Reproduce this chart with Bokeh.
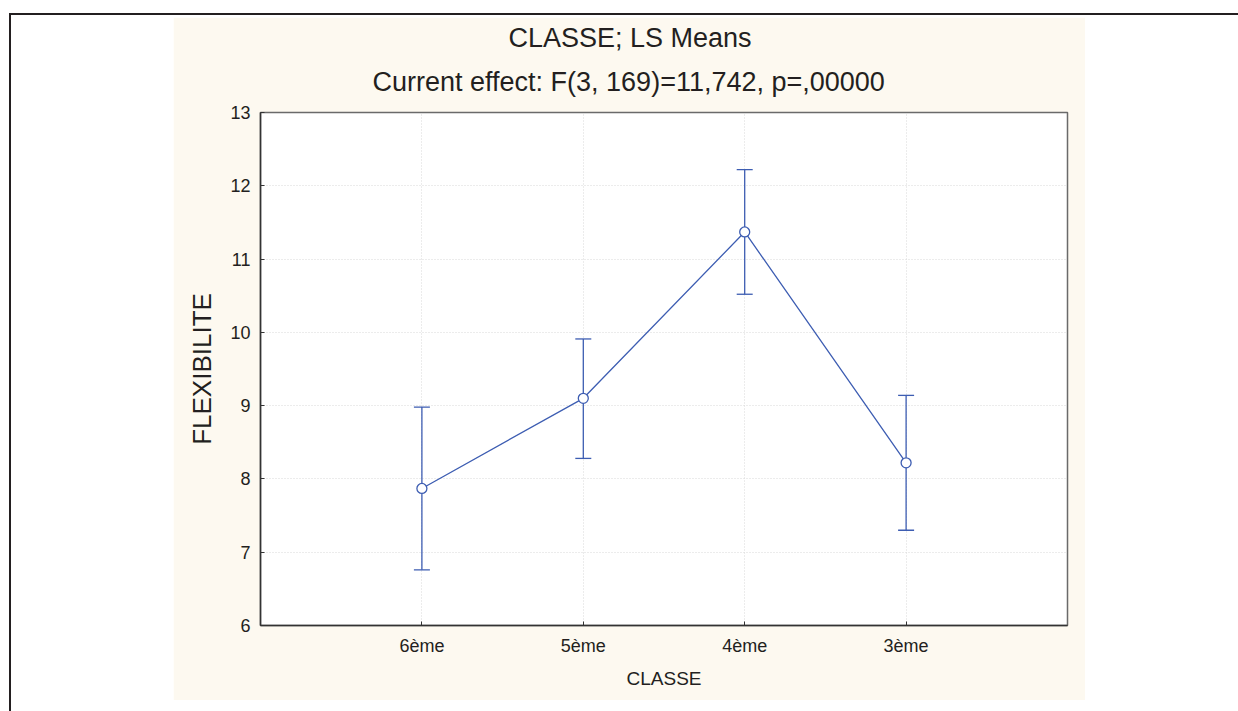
from bokeh.plotting import figure
from bokeh.models import (Range1d, FactorRange, FixedTicker, Whisker, TeeHead,
                          ColumnDataSource, Title)
from bokeh.layouts import column
from bokeh.embed import file_html
from bokeh.resources import INLINE

# ---- data ----
categories = ["6ème", "5ème", "4ème", "3ème"]
means = [7.87, 9.10, 11.37, 8.22]
lower = [6.76, 8.28, 10.52, 7.30]
upper = [8.98, 9.91, 12.22, 9.14]
y_ticks = [6, 7, 8, 9, 10, 11, 12, 13]
title_line1 = "CLASSE; LS Means"
title_line2 = "Current effect: F(3, 169)=11,742, p=,00000"
x_label = "CLASSE"
y_label = "FLEXIBILITE"

BLUE = "#3d5db2"
CREAM = "#fdf9f0"
FONT = "Liberation Sans"
TXT = "#231f20"

src = ColumnDataSource(dict(cat=categories, mean=means, lo=lower, hi=upper))

p = figure(x_range=FactorRange(*categories, range_padding=0.25),
           y_range=Range1d(6, 13),
           width=912, height=683,
           min_border_left=87, min_border_right=18,
           min_border_top=95, min_border_bottom=75,
           output_backend="svg", toolbar_location=None,
           sizing_mode="fixed",
           border_fill_color=CREAM, background_fill_color="white",
           outline_line_color="#6a6a6a", outline_line_width=1.5)

# titles (added bottom-up), centred on the whole chart area
p.add_layout(Title(text=title_line2, align="left", offset=112,
                   text_font=FONT, text_font_size="27px", text_font_style="normal",
                   text_color=TXT, standoff=31), "above")
p.add_layout(Title(text=title_line1, align="left", offset=248,
                   text_font=FONT, text_font_size="27px", text_font_style="normal",
                   text_color=TXT, standoff=-6), "above")

# axes
p.yaxis.ticker = FixedTicker(ticks=y_ticks)
for ax in (p.xaxis[0], p.yaxis[0]):
    ax.major_tick_in = 4
    ax.major_tick_out = 0
    ax.minor_tick_in = 0
    ax.minor_tick_out = 0
    ax.axis_line_color = "#333333"
    ax.axis_line_width = 1.5
    ax.major_tick_line_color = "#333333"
    ax.major_label_text_font = FONT
    ax.major_label_text_font_size = "18px"
    ax.major_label_text_color = TXT
    ax.axis_label_text_font = FONT
    ax.axis_label_text_font_style = "normal"
    ax.axis_label_text_color = TXT

p.xaxis.axis_label = x_label
p.xaxis.axis_label_text_font_size = "19px"
p.xaxis.major_label_standoff = 10
p.xaxis.axis_label_standoff = 9

p.yaxis.axis_label = y_label
p.yaxis.axis_label_text_font_size = "26px"
p.yaxis.major_label_standoff = 10
p.yaxis.axis_label_standoff = 10

# grid
for g in (p.xgrid[0], p.ygrid[0]):
    g.grid_line_color = "#d9d9d9"
    g.grid_line_dash = "1 2"
    g.grid_line_width = 1

# data
w = Whisker(base="cat", upper="hi", lower="lo", source=src, line_color=BLUE, line_width=1.3,
            upper_head=TeeHead(size=16, line_color=BLUE, line_width=1.3),
            lower_head=TeeHead(size=16, line_color=BLUE, line_width=1.3))
p.add_layout(w)
p.line("cat", "mean", source=src, line_color=BLUE, line_width=1.3)
p.scatter("cat", "mean", source=src, size=10, fill_color="white",
          line_color=BLUE, line_width=1.3)

p.margin = (2, 153, 11, 162)
outer = column(p, margin=(13, 0, 0, 9),
               styles={"border-top": "2px solid #231f20",
                       "border-left": "2px solid #231f20"})

open("out.html", "w").write(file_html(outer, INLINE))
